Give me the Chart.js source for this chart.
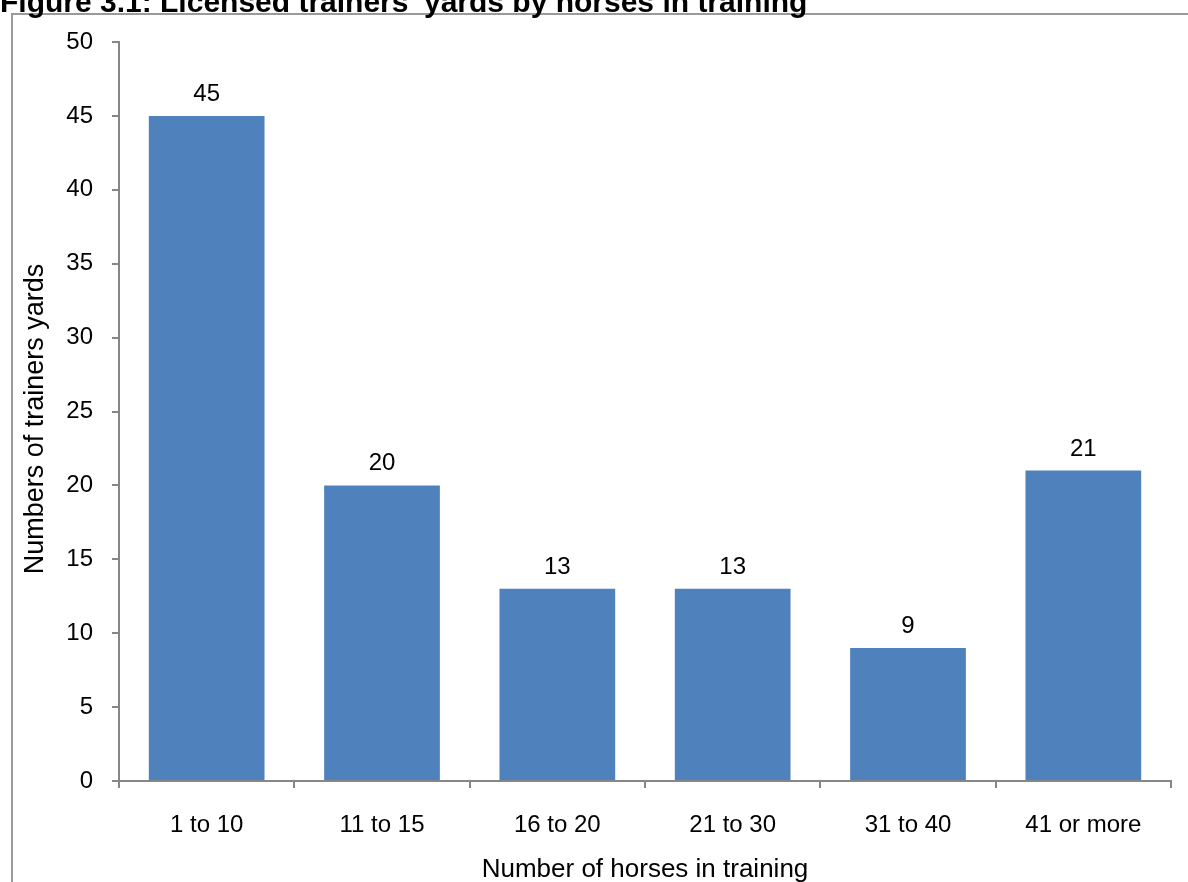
<!DOCTYPE html>
<html>
<head>
<meta charset="utf-8">
<script src="https://cdn.jsdelivr.net/npm/chart.js@4/dist/chart.umd.min.js"></script>
<style>
  html, body { margin: 0; padding: 0; background: #fff; overflow: hidden; }
  #wrap { position: relative; width: 1188px; height: 882px; overflow: hidden; }
  #frame { position: absolute; left: 11px; top: 13px; right: -10px; bottom: -10px;
           border-left: 2px solid #9a9a9a; border-top: 2px solid #9a9a9a; }
  #title { position: absolute; left: 0; top: -15px; font-family: "Liberation Sans", Arial, sans-serif;
           font-weight: bold; font-size: 30px; color: #000; white-space: nowrap; line-height: 34px; }
  canvas { position: absolute; left: 0; top: 0; }
</style>
</head>
<body>
<div id="wrap">
  <div id="frame"></div>
  <canvas id="c" width="1188" height="882"></canvas>
  <div id="title">Figure 3.1: Licensed trainers' yards by horses in training</div>
</div>
<script>
const categories = ["1 to 10", "11 to 15", "16 to 20", "21 to 30", "31 to 40", "41 or more"];
const yardCounts = [45, 20, 13, 13, 9, 21];
const yTickMin = 0, yTickMax = 50, yTickStep = 5;
const xAxisTitle = "Number of horses in training";
const yAxisTitle = "Numbers of trainers yards  ";

const FONT = "'Liberation Sans', Arial, sans-serif";

const valueLabels = {
  id: 'valueLabels',
  afterDatasetsDraw(chart) {
    const ctx = chart.ctx;
    const meta = chart.getDatasetMeta(0);
    ctx.save();
    ctx.font = "24px " + FONT;
    ctx.fillStyle = "#000";
    ctx.textAlign = "center";
    ctx.textBaseline = "alphabetic";
    meta.data.forEach((bar, i) => {
      ctx.fillText(String(chart.data.datasets[0].data[i]), bar.x, bar.y - 15);
    });
    ctx.restore();
  }
};

new Chart(document.getElementById('c'), {
  type: 'bar',
  data: {
    labels: categories,
    datasets: [{
      data: yardCounts,
      backgroundColor: '#4F81BD',
      borderWidth: 0,
      categoryPercentage: 0.66,
      barPercentage: 1.0
    }]
  },
  options: {
    responsive: false,
    animation: false,
    devicePixelRatio: 1,
    layout: { padding: { left: 0, top: 42, right: 17, bottom: 0 } },
    plugins: {
      legend: { display: false },
      tooltip: { enabled: false },
      title: { display: false }
    },
    scales: {
      x: {
        afterFit(scale) { scale.height = 101; },
        grid: { display: true, drawOnChartArea: false, drawTicks: true, tickLength: 7, color: '#868686', lineWidth: 2, offset: true },
        border: { display: true, color: '#868686', width: 2 },
        ticks: { color: '#000', font: { family: FONT, size: 24 }, padding: 23, maxRotation: 0 },
        title: { display: true, text: xAxisTitle, color: '#000', font: { family: FONT, size: 26, lineHeight: 1.0 }, padding: { top: 0, bottom: -1 } }
      },
      y: {
        min: yTickMin, max: yTickMax,
        afterFit(scale) { scale.width = 119; },
        grid: { display: true, drawOnChartArea: false, drawTicks: true, tickLength: 7, color: '#868686', lineWidth: 2 },
        border: { display: true, color: '#868686', width: 2 },
        ticks: { stepSize: yTickStep, color: '#000', font: { family: FONT, size: 24 }, padding: 19 },
        title: { display: true, text: yAxisTitle, color: '#000', font: { family: FONT, size: 27, lineHeight: 1.0 }, padding: { top: 22, bottom: 0 } }
      }
    }
  },
  plugins: [valueLabels]
});
</script>
</body>
</html>
